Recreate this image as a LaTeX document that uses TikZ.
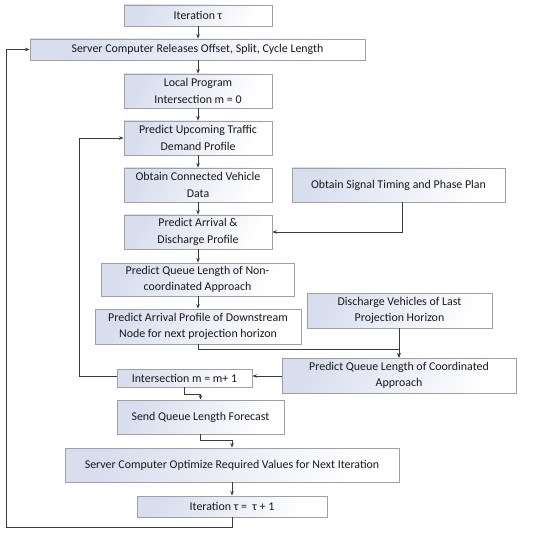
\documentclass[tikz,border=0pt]{standalone}
\usepackage{fontspec}
\setmainfont{Carlito}
\usetikzlibrary{arrows.meta,calc}
\definecolor{boxl}{HTML}{D9DEEF}
\definecolor{boxd}{HTML}{A0A0A0}
\definecolor{linec}{HTML}{3A3A3A}
\tikzset{
  box/.style={draw=boxd, line width=0.8pt, left color=boxl, right color=white, shading angle=60,
    align=center, inner sep=1pt, font=\fontsize{11.9}{16.5}\selectfont, text=black!90},
  conn/.style={draw=linec, line width=0.8pt, -{Stealth[length=4.5pt,width=3.5pt]}},
  plain/.style={draw=linec, line width=0.8pt}
}
\begin{document}
\begin{tikzpicture}[x=1pt,y=-1pt]
\useasboundingbox (0,0) rectangle (550,535);
\node[box, minimum width=148pt, minimum height=21pt] (it0) at (198,15.5) {Iteration τ};
\node[box, minimum width=335pt, minimum height=21pt] (srv) at (197.5,49.5) {Server Computer Releases Offset, Split, Cycle Length};
\node[box, minimum width=148pt, minimum height=34pt] (loc) at (198,91) {Local Program\\Intersection m = 0};
\node[box, minimum width=148pt, minimum height=34pt] (pred) at (198,138) {Predict Upcoming Traffic\\Demand Profile};
\node[box, minimum width=148pt, minimum height=34pt] (obt) at (198,185) {Obtain Connected Vehicle\\Data};
\node[box, minimum width=213pt, minimum height=34pt] (sig) at (398.5,185) {Obtain Signal Timing and Phase Plan};
\node[box, minimum width=148pt, minimum height=34pt] (arr) at (198,232) {Predict Arrival \&\\Discharge Profile};
\node[box, minimum width=193pt, minimum height=33pt] (nonc) at (197.5,279.5) {Predict Queue Length of Non-\\coordinated Approach};
\node[box, minimum width=206pt, minimum height=35pt] (down) at (198,326.5) {Predict Arrival Profile of Downstream\\Node for next projection horizon};
\node[box, minimum width=185pt, minimum height=35pt] (dis) at (399.5,310.5) {Discharge Vehicles of Last\\Projection Horizon};
\node[box, minimum width=234pt, minimum height=35pt] (coord) at (399,375.5) {Predict Queue Length of Coordinated\\Approach};
\node[box, minimum width=135pt, minimum height=18pt] (inter) at (184.5,378) {Intersection m = m+ 1};
\node[box, minimum width=167pt, minimum height=34pt] (send) at (200.5,417) {Send Queue Length Forecast};
\node[box, minimum width=334pt, minimum height=34pt] (opt) at (232,465) {Server Computer Optimize Required Values for Next Iteration};
\node[box, minimum width=190pt, minimum height=21pt] (it1) at (232,506.5) {Iteration τ =~ τ + 1};
\coordinate (lb) at (6,527);
\coordinate (lt) at (6,49.5);
\coordinate (ib) at (79,138);
\draw[conn] (it0.south) -- (it0.south |- srv.north);
\draw[conn] (srv.south -| loc.north) -- (loc.north);
\draw[conn] (loc) -- (pred);
\draw[conn] (pred) -- (obt);
\draw[conn] (obt) -- (arr);
\draw[conn] (arr.south) -- (arr.south |- nonc.north);
\draw[conn] (nonc.south -| down.north) -- (down.north);
\draw[conn] ($(sig.south)+(4,0)$) |- (arr.east);
\draw[conn] (down.south) -- ++(0,5) -| (coord.north);
\draw[conn] (dis.south -| coord.north) -- (coord.north);
\draw[conn] (coord.west |- 0,376) -- (inter.east |- 0,376);
\draw[conn] (inter.west |- 0,376) -| (ib |- pred.west) -- (pred.west);
\draw[conn] (inter.south) -- ++(0,7) -| (send.north);
\draw[conn] (send.south) -- ++(0,6) -| (opt.north);
\draw[conn] (opt) -- (it1);
\draw[conn] (it1.south) |- (lb) -- (lt) -- (srv.west);
\end{tikzpicture}
\end{document}
